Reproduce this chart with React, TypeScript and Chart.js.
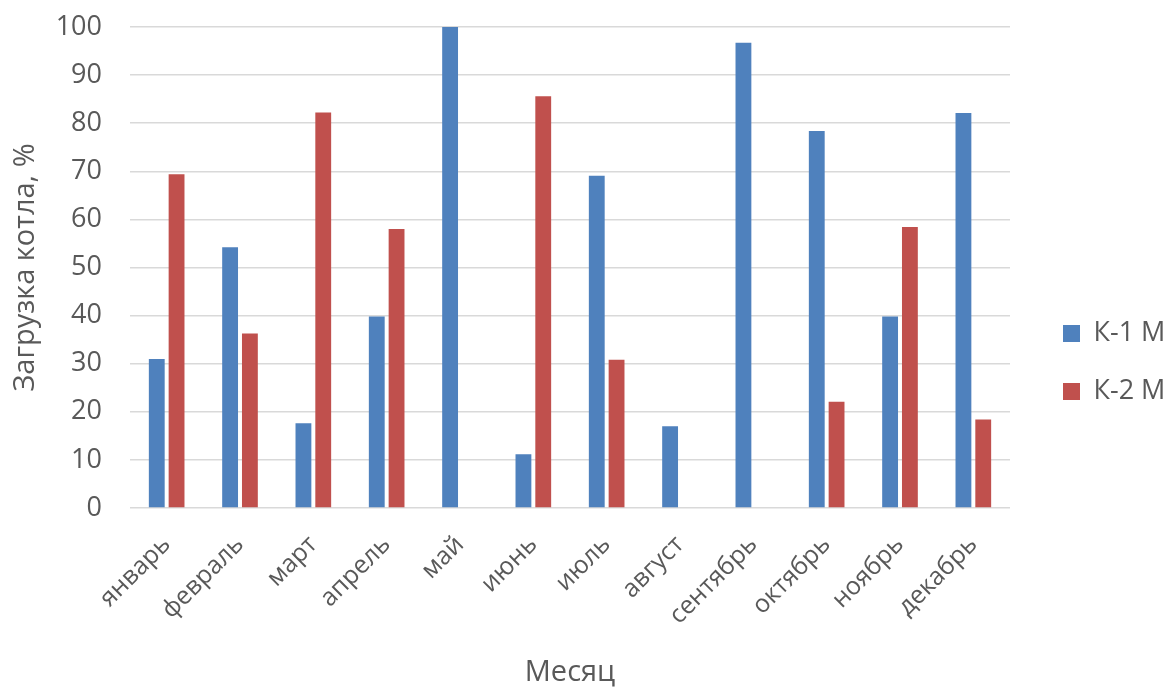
import React, { useEffect, useRef } from "react";
import { Chart, registerables } from "chart.js";

Chart.register(...registerables);

const months = ["январь", "февраль", "март", "апрель", "май", "июнь", "июль", "август", "сентябрь", "октябрь", "ноябрь", "декабрь"];
const k1Values = [31, 54.2, 17.6, 39.8, 100, 11.2, 69.1, 17, 96.7, 78.4, 39.8, 82.1];
const k2Values = [69.4, 36.3, 82.2, 58, 0, 85.6, 30.8, 0, 0, 22.1, 58.4, 18.4];
const seriesNames = ["К-1 М", "К-2 М"];
const yTitle = "Загрузка котла, %";
const xTitle = "Месяц";

const TEXT = "#595959";
const FONT = "'Open Sans', 'DejaVu Sans', sans-serif";

// layout targets (px)
const PLOT_LEFT = 130;
const PLOT_TOP = 27;
const PLOT_BOTTOM = 508;
const PLOT_RIGHT_MARGIN = 158;
const LEGEND_DX = 22;
const LEGEND_DY = 19;

const legendShift = {
  id: "legendShift",
  afterLayout(chart: any) {
    const l = chart.legend;
    if (!l) return;
    l.left += LEGEND_DX;
    l.right += LEGEND_DX;
    l.top += LEGEND_DY;
    l.bottom += LEGEND_DY;
  },
};

export default function App() {
  const ref = useRef<HTMLCanvasElement | null>(null);

  useEffect(() => {
    if (!ref.current) return;
    const chart = new Chart(ref.current, {
      type: "bar",
      data: {
        labels: months,
        datasets: [
          {
            label: seriesNames[0],
            data: k1Values,
            backgroundColor: "#4F81BD",
            borderWidth: 0,
            categoryPercentage: 0.54,
            barPercentage: 0.8,
          },
          {
            label: seriesNames[1],
            data: k2Values,
            backgroundColor: "#C0504D",
            borderWidth: 0,
            categoryPercentage: 0.54,
            barPercentage: 0.8,
          },
        ],
      },
      plugins: [legendShift],
      options: {
        animation: false,
        responsive: false,
        maintainAspectRatio: false,
        layout: { padding: 0 },
        plugins: {
          tooltip: { enabled: false },
          legend: {
            position: "right",
            labels: {
              boxWidth: 17,
              boxHeight: 17,
              padding: 31,
              color: TEXT,
              font: { family: FONT, size: 27 },
            },
          },
        },
        scales: {
          x: {
            grid: { display: false },
            border: { display: false },
            ticks: {
              color: TEXT,
              font: { family: FONT, size: 25 },
              minRotation: 45,
              maxRotation: 45,
              padding: 14,
            },
            title: {
              display: true,
              text: xTitle,
              color: TEXT,
              font: { family: FONT, size: 29, lineHeight: 1 },
              padding: { top: 0, bottom: 0 },
            },
            afterFit(scale: any) {
              scale.height = 687 - PLOT_BOTTOM;
              scale.paddingLeft = 0;
              scale.paddingRight = PLOT_RIGHT_MARGIN;
              scale.paddingTop = 0;
              scale.paddingBottom = 0;
            },
          },
          y: {
            min: 0,
            max: 100,
            ticks: {
              stepSize: 10,
              color: TEXT,
              font: { family: FONT, size: 27 },
              padding: 28,
            },
            grid: { color: "#d9d9d9", lineWidth: 1.5, drawTicks: false },
            border: { display: false },
            title: {
              display: true,
              text: yTitle,
              color: TEXT,
              font: { family: FONT, size: 29 },
              padding: { top: 8, bottom: 0 },
            },
            afterFit(scale: any) {
              scale.width = PLOT_LEFT;
              scale.paddingTop = PLOT_TOP;
              scale.paddingBottom = 0;
            },
          },
        },
      },
    });
    return () => chart.destroy();
  }, []);

  return (
    <div style={{ position: "absolute", left: 0, top: 0, width: 1168, height: 687, background: "#fff" }}>
      <canvas ref={ref} width={1168} height={687} style={{ display: "block" }} />
    </div>
  );
}
